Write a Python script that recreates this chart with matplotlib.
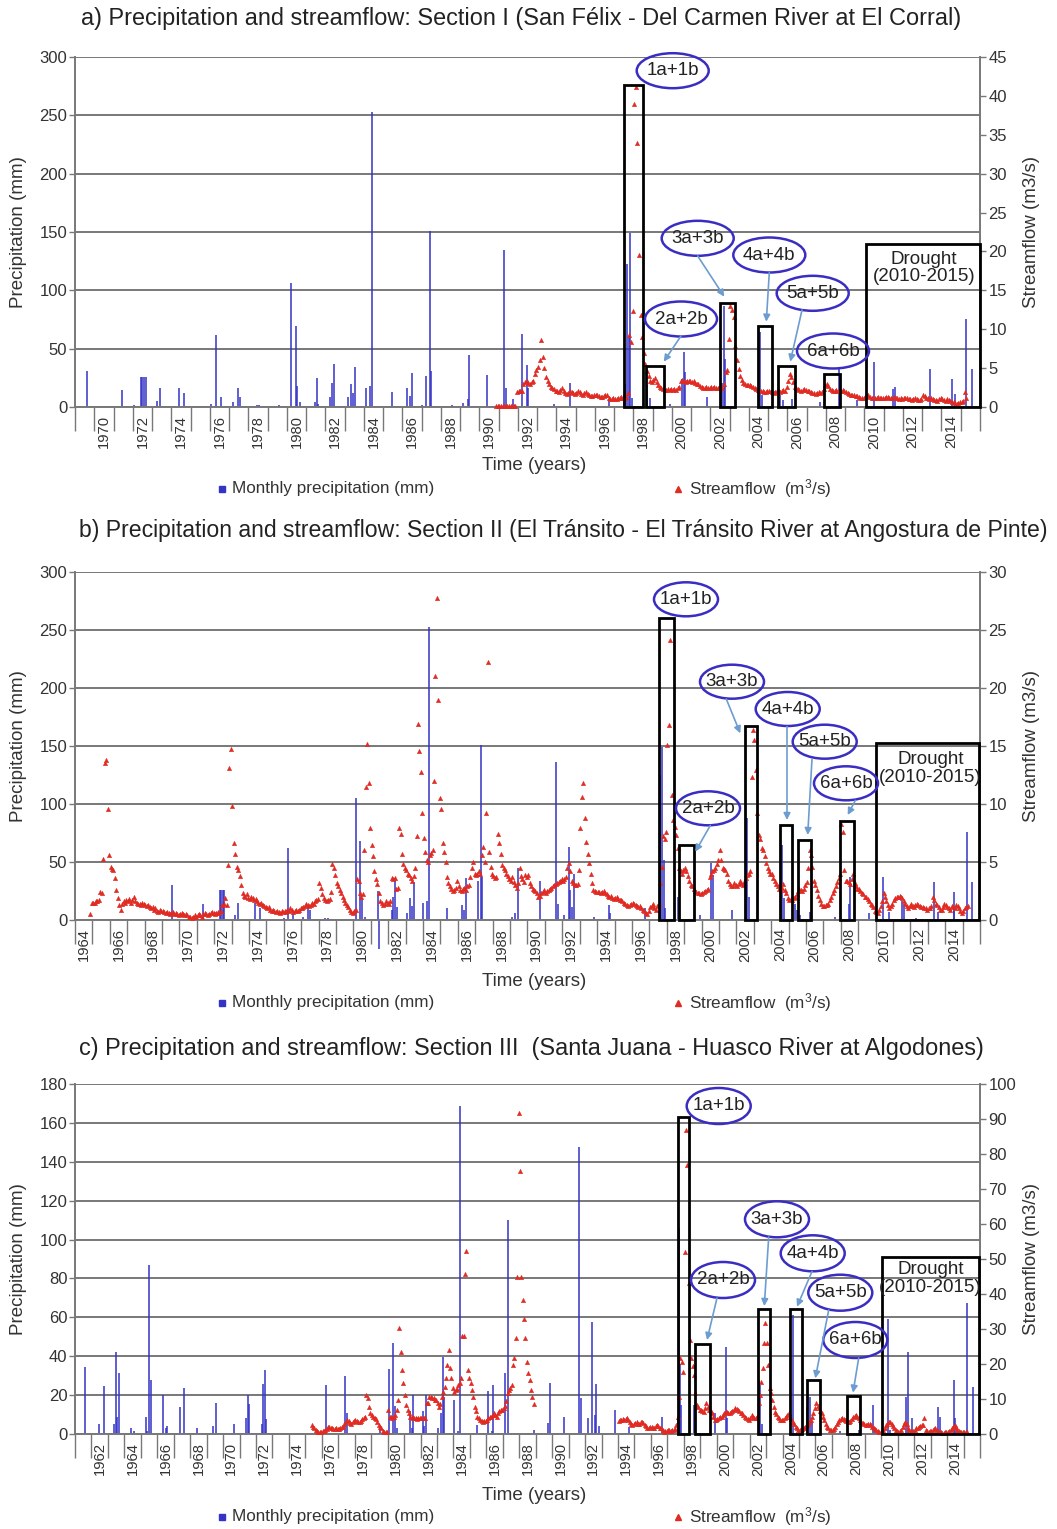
import numpy as np
import matplotlib
matplotlib.use('Agg')
import matplotlib.pyplot as plt
import matplotlib.transforms as mtrans
from matplotlib.patches import Ellipse, Rectangle, FancyArrowPatch
from matplotlib.lines import Line2D

plt.rcParams['font.family'] = ['Liberation Sans', 'DejaVu Sans']
plt.rcParams['mathtext.fontset'] = 'custom'
plt.rcParams['mathtext.rm'] = 'Liberation Sans'
plt.rcParams['mathtext.it'] = 'Liberation Sans:italic'

# ---------------------------------------------------------------- data
# Panel a: Section I (San Felix - Del Carmen River at El Corral)
precip_a_year = [1969.61, 1971.46, 1972.06, 1972.41, 1972.5, 1972.58, 1972.67, 1973.24, 1973.41,
                 1974.42, 1974.68, 1976.06, 1976.32, 1976.57, 1977.22, 1977.48, 1977.57, 1978.45,
                 1978.55, 1979.61, 1980.22, 1980.46, 1980.53, 1980.69, 1981.46, 1981.55, 1981.64,
                 1982.24, 1982.36, 1982.47, 1983.19, 1983.33, 1983.42, 1983.54, 1984.11, 1984.32,
                 1984.44, 1985.45, 1986.26, 1986.4, 1986.52, 1987.0, 1987.23, 1987.42, 1987.5,
                 1988.56, 1989.17, 1989.39, 1989.48, 1990.41, 1991.3, 1991.38, 1991.76, 1992.2,
                 1992.45, 1992.55, 1993.86, 1994.71, 1996.72, 1997.5, 1997.58, 1997.67, 1997.75,
                 1997.83, 1997.92, 1998.71, 1998.86, 1999.9, 2000.52, 2000.61, 2000.69, 2001.82,
                 2002.6, 2002.69, 2002.77, 2004.59, 2004.68, 2005.61, 2005.79, 2006.24, 2007.71,
                 2008.66, 2008.74, 2009.61, 2010.48, 2011.5, 2011.59, 2013.42, 2014.55, 2014.72,
                 2015.29, 2015.59]
precip_a_mm = [31, 15, 1.5, 26, 26, 26, 26, 5, 16.6,
               16.6, 12.3, 3, 62, 9, 4.5, 16.6, 9, 1.5,
               1.5, 1.5, 106, 69.6, 18, 4.5, 4, 25, 2.5,
               9, 21, 37, 9, 19.5, 12, 34, 16, 18,
               253, 13, 16.6, 9.5, 29.5, 1.5, 26.6, 151, 31,
               1.5, 3.7, 6.6, 45, 27.5, 135, 16.6, 6.5, 63,
               36, 16, 3, 21, 6, 10, 20, 123, 60,
               149, 8, 18.6, 8, 3, 24, 47, 30, 8.6,
               21, 87, 41, 64, 10, 10, 6, 7, 4,
               33, 7, 6, 38.6, 15.7, 17, 33, 24, 11.4,
               75.7, 33]
flow_a_start = (1990, 11)   # first monthly value: Nov 1990
flow_a = [0.1, 0.1,
          0.1, 0.1, 0.1, 0.1, 0.1, 0.1, 0.1, 0.1, 0.1, 0.1, 0.1, 1.9,
          2.0, 2.0, 2.1, 2.9, 3.2, 3.3, 3.1, 3.0, 3.2, 3.4, 4.2, 4.8,
          5.2, 6.0, 8.6, 6.4, 5.0, 3.9, 3.3, 2.9, 2.6, 2.4, 2.3, 2.1,
          2.0, 1.9, 2.2, 2.4, 2.0, 1.8, 1.7, 1.8, 2.0, 1.9, 1.8, 1.7,
          1.8, 2.0, 1.9, 1.7, 1.6, 1.8, 1.9, 1.7, 1.5, 1.4, 1.4, 1.5,
          1.6, 1.5, 1.4, 1.3, 1.3, 1.4, 1.6, 1.5, 1.2, 1.0, 1.0, 1.1,
          1.0, 1.0, 1.1, 1.2, 1.3, 1.2, 1.2, 1.3, 1.8, 9.2, 8.4, 12.4,
          39.0, 41.1, 34.0, 19.5, 11.8, 9.0, 7.0, 5.5, 4.6, 4.0, 3.4, 3.2,
          3.5, 3.7, 3.2, 2.8, 2.6, 2.4, 2.3, 2.2, 2.2, 2.3, 2.2, 2.3,
          2.2, 2.3, 2.2, 2.4, 2.6, 3.3, 3.5, 3.4, 3.2, 3.3, 3.4, 3.3,
          3.2, 3.3, 3.1, 3.0, 2.9, 2.7, 2.6, 2.5, 2.5, 2.6, 2.5, 2.5,
          2.6, 2.5, 2.6, 2.5, 2.4, 2.5, 2.6, 2.5, 3.0, 4.5, 4.8, 8.8,
          13.0, 12.5, 11.6, 7.9, 6.0, 4.9, 4.0, 3.5, 3.1, 2.9, 2.8, 2.8,
          2.8, 2.7, 2.6, 2.5, 2.3, 2.2, 2.1, 2.0, 2.0, 1.9, 1.9, 2.0,
          2.0, 2.1, 1.9, 1.8, 1.9, 2.0, 2.1, 1.9, 2.0, 2.2, 2.1, 2.6,
          3.4, 4.3, 3.8, 3.2, 2.6, 2.4, 2.3, 2.2, 2.1, 2.2, 2.3, 2.2,
          2.1, 2.0, 1.9, 1.8, 1.8, 1.7, 1.8, 1.9, 1.8, 1.9, 2.3, 2.8,
          2.9, 2.7, 2.3, 2.2, 2.1, 2.0, 2.2, 2.1, 2.0, 2.1, 2.2, 2.0,
          1.9, 1.8, 1.7, 1.6, 1.6, 1.5, 1.4, 1.4, 1.3, 1.2, 1.2, 1.1,
          1.3, 1.4, 1.5, 1.3, 1.2, 1.2, 1.1, 1.2, 1.3, 1.2, 1.1, 1.2,
          1.2, 1.3, 1.3, 1.2, 1.1, 1.2, 1.3, 1.2, 1.1, 1.0, 1.1, 1.0,
          1.1, 1.2, 1.1, 1.0, 1.0, 0.9, 1.0, 1.1, 1.0, 0.9, 0.9, 1.0,
          1.5, 1.4, 1.2, 1.1, 1.0, 1.1, 1.0, 0.9, 0.9, 0.8, 1.0, 1.2,
          1.0, 0.9, 0.8, 1.0, 0.9, 0.8, 0.7, 0.6, 0.5, 0.4, 0.5, 0.6,
          0.6, 0.8, 1.9, 1.2]
events = ['1a+1b', '2a+2b', '3a+3b', '4a+4b', '5a+5b', '6a+6b', 'Drought']
box_a_start = [1997.53, 1998.65, 2002.51, 2004.47, 2005.49, 2007.88, 2010.1]
box_a_end = [1998.48, 1999.6, 2003.26, 2005.2, 2006.41, 2008.75, 2016.0]
box_a_top = [41.4, 5.3, 13.4, 10.4, 5.3, 4.3, 20.9]

# Panel b: Section II (El Transito - El Transito River at Angostura de Pinte)
precip_b_year = [1969.55, 1971.37, 1972.33, 1972.41, 1972.49, 1972.56, 1973.19, 1973.35, 1974.34,
                 1974.63, 1976.01, 1976.26, 1976.55, 1977.12, 1977.41, 1977.5, 1978.36, 1978.56,
                 1980.13, 1980.38, 1980.47, 1980.66, 1981.43, 1981.47, 1982.2, 1982.29, 1982.39,
                 1982.48, 1983.1, 1983.25, 1983.38, 1983.48, 1984.02, 1984.25, 1984.36, 1985.36,
                 1986.22, 1986.37, 1986.47, 1987.18, 1987.33, 1987.41, 1989.09, 1989.28, 1989.44,
                 1990.74, 1991.66, 1991.73, 1992.12, 1992.36, 1992.46, 1992.56, 1992.65, 1993.8,
                 1994.66, 1994.72, 1996.77, 1997.59, 1997.63, 1997.73, 1997.82, 1997.88, 1998.63,
                 1999.93, 2000.56, 2000.64, 2001.75, 2002.61, 2002.71, 2004.62, 2004.72, 2005.39,
                 2005.48, 2005.68, 2006.25, 2007.69, 2008.45, 2008.55, 2009.6, 2010.41, 2010.75,
                 2011.52, 2011.61, 2012.34, 2013.38, 2013.57, 2014.49, 2014.53, 2015.25, 2015.54]
precip_b_mm = [30, 14, 26, 26, 26, 26, 4, 15, 15,
               10, 1.5, 62, 5, 3, 13, 9, 1.5, 1.5,
               105.6, 68, 18.7, 3, 25, -25, 9, 20, 36,
               11, 6, 19, 12, 33, 14.5, 16, 252.6, 10,
               13, 9, 36, 34, 150.7, 37, 3, 6, 44.5,
               34, 135.8, 14, 4, 63, 26, 11, 40, 3,
               13, 6, 10, 32, 125, 149, 52, 10, 20,
               4, 49, 39, 9, 87.6, 20, 64.6, 18.7, 14,
               9, 4, 7, 3, 14, 37, 6, 37, 7,
               16, 14, 1.5, 33, 7, 24, 10, 76, 33]
flow_b_start = (1964, 11)
flow_b = [0.5, 1.5,
          1.5, 1.5, 1.6, 1.6, 1.7, 2.4, 2.3, 5.3, 13.5, 13.8, 9.6, 5.6,
          4.6, 4.4, 4.3, 3.6, 2.6, 1.9, 1.3, 0.9, 1.4, 1.6, 1.5, 1.7,
          1.6, 1.8, 1.5, 1.7, 2.0, 1.6, 1.5, 1.4, 1.4, 1.3, 1.5, 1.4,
          1.3, 1.2, 1.3, 1.1, 1.0, 1.1, 0.9, 1.0, 0.8, 0.7, 0.9, 0.8,
          0.8, 0.7, 0.6, 0.7, 0.6, 0.5, 0.6, 0.7, 0.5, 0.6, 0.5, 0.4,
          0.5, 0.6, 0.5, 0.4, 0.5, 0.4, 0.3, 0.3, 0.2, 0.3, 0.4, 0.3,
          0.4, 0.5, 0.4, 0.3, 0.5, 0.6, 0.5, 0.4, 0.5, 0.6, 0.7, 0.6,
          0.5, 0.6, 0.7, 0.6, 0.8, 1.3, 1.4, 1.9, 1.3, 4.7, 13.1, 14.7,
          9.8, 6.6, 5.7, 4.6, 4.3, 3.8, 3.0, 2.3, 2.1, 2.0, 2.2, 1.9,
          1.8, 2.0, 1.9, 1.7, 1.8, 1.6, 1.5, 1.4, 1.5, 1.3, 1.2, 1.1,
          1.0, 1.1, 0.9, 0.8, 0.9, 0.8, 0.7, 0.8, 0.7, 0.6, 0.8, 0.7,
          0.8, 0.7, 0.9, 0.8, 1.0, 0.9, 0.7, 0.8, 0.9, 0.8, 0.9, 1.0,
          1.0, 1.1, 1.2, 1.4, 1.3, 1.2, 1.3, 1.5, 1.4, 1.6, 1.7, 1.8,
          3.2, 2.8, 2.2, 1.9, 1.7, 1.6, 1.7, 1.8, 2.4, 4.8, 4.5, 3.9,
          3.2, 2.9, 2.6, 2.3, 2.0, 1.7, 1.5, 1.3, 1.1, 0.9, 0.7, 0.6,
          0.8, 0.9, 3.5, 3.4, 2.3, 2.0, 2.2, 6.0, 11.5, 15.2, 11.8, 7.9,
          6.5, 5.5, 4.2, 3.5, 3.1, 2.3, 1.6, 1.5, 1.3, 1.4, 1.6, 1.5,
          1.4, 1.6, 3.6, 3.5, 3.6, 2.7, 2.8, 7.9, 7.4, 5.7, 4.8, 4.5,
          4.3, 4.0, 3.9, 3.6, 3.4, 3.8, 4.5, 7.2, 16.9, 14.6, 12.8, 9.2,
          7.1, 5.9, 5.2, 5.0, 5.6, 5.8, 6.0, 12.0, 21.0, 27.8, 19.0, 10.5,
          9.6, 6.6, 5.9, 5.0, 3.7, 3.2, 2.9, 2.7, 2.5, 2.6, 2.8, 3.4,
          2.9, 2.6, 2.5, 2.7, 2.8, 2.6, 2.9, 3.0, 3.7, 4.5, 5.0, 4.0,
          3.9, 4.0, 4.2, 4.0, 5.6, 6.3, 5.0, 9.2, 22.2, 5.9, 4.6, 4.0,
          3.8, 3.6, 3.7, 7.4, 6.6, 5.7, 4.7, 4.5, 4.3, 4.0, 3.8, 3.5,
          3.4, 3.7, 3.3, 3.0, 2.8, 3.2, 4.5, 3.8, 3.5, 3.3, 3.9, 3.7,
          3.9, 3.2, 2.9, 2.7, 2.6, 2.5, 2.3, 2.0, 2.1, 2.3, 2.4, 2.6,
          2.3, 2.5, 2.6, 2.7, 2.8, 2.9, 3.0, 3.1, 3.2, 3.3, 3.4, 3.5,
          3.4, 3.5, 3.7, 4.5, 4.9, 4.2, 3.4, 3.2, 3.0, 3.0, 3.1, 4.3,
          7.9, 10.6, 11.8, 8.8, 6.7, 5.7, 4.9, 4.0, 3.2, 2.6, 2.5, 2.4,
          2.4, 2.4, 2.3, 2.4, 2.5, 2.3, 2.2, 2.1, 2.0, 2.1, 1.9, 1.8,
          1.9, 2.0, 1.8, 1.7, 1.7, 1.6, 1.5, 1.4, 1.3, 1.2, 1.3, 1.4,
          1.5, 1.4, 1.3, 1.2, 1.1, 1.2, 1.0, 0.9, 0.8, 0.6, 0.5, 0.8,
          1.1, 1.2, 1.4, 1.0, 0.9, 1.2, 1.4, 3.2, 4.6, 7.2, 7.0, 7.6,
          15.1, 16.8, 24.1, 10.8, 8.6, 8.0, 7.3, 6.2, 4.5, 4.2, 4.0, 4.3,
          4.5, 4.2, 3.8, 3.4, 3.0, 2.9, 2.7, 2.5, 2.4, 2.3, 2.3, 2.2,
          2.3, 2.4, 2.5, 2.6, 2.7, 3.7, 4.0, 4.2, 4.3, 4.5, 4.8, 5.2,
          6.0, 5.2, 4.5, 4.4, 4.3, 4.0, 3.4, 3.1, 2.9, 2.9, 3.2, 3.0,
          2.9, 3.1, 3.4, 3.2, 3.0, 3.3, 3.6, 3.9, 4.0, 4.2, 12.3, 16.4,
          15.5, 12.9, 9.2, 7.3, 7.0, 6.2, 6.0, 5.5, 4.9, 4.5, 4.2, 4.0,
          4.0, 3.6, 3.4, 3.1, 2.9, 2.7, 2.6, 2.8, 3.1, 2.6, 2.3, 1.9,
          1.7, 1.8, 1.7, 1.9, 2.0, 2.2, 2.5, 2.7, 2.6, 2.5, 2.7, 3.0,
          3.3, 4.5, 6.0, 5.6, 4.6, 3.4, 3.0, 2.6, 2.1, 1.7, 1.4, 1.2,
          1.2, 1.3, 1.3, 1.4, 1.7, 2.0, 2.3, 2.6, 2.9, 3.3, 3.6, 4.0,
          8.3, 7.6, 4.3, 3.4, 3.4, 3.3, 3.1, 3.5, 4.0, 3.2, 2.9, 2.7,
          2.7, 2.5, 2.3, 2.2, 2.0, 2.0, 1.8, 1.6, 1.4, 1.3, 1.1, 0.8,
          0.7, 0.6, 0.9, 1.2, 1.6, 2.3, 2.0, 1.6, 1.3, 1.0, 1.2, 1.4,
          1.7, 1.9, 2.0, 2.0, 2.1, 2.0, 1.9, 1.6, 1.4, 1.2, 1.0, 1.2,
          1.4, 1.2, 1.1, 1.3, 1.4, 1.3, 1.2, 1.1, 1.1, 1.0, 1.0, 0.9,
          1.0, 1.0, 1.2, 2.0, 1.7, 1.4, 1.3, 1.1, 0.9, 0.9, 1.1, 1.4,
          1.3, 1.1, 1.0, 0.9, 1.2, 1.1, 1.0, 1.3, 1.2, 1.0, 0.8, 0.6,
          0.8, 1.0, 1.1, 1.2]
box_b_start = [1997.54, 1998.68, 2002.52, 2004.49, 2005.52, 2007.97, 2010.02]
box_b_end = [1998.4, 1999.58, 2003.19, 2005.2, 2006.31, 2008.74, 2015.92]
box_b_top = [26.0, 6.5, 16.7, 8.2, 6.9, 8.5, 15.3]

# Panel c: Section III (Santa Juana - Huasco River at Algodones)
precip_c_year = [1961.61, 1962.48, 1962.78, 1963.39, 1963.47, 1963.57, 1963.67, 1964.4, 1964.59,
                 1965.3, 1965.4, 1965.5, 1965.6, 1966.37, 1966.51, 1966.59, 1967.38, 1967.65,
                 1968.39, 1969.41, 1969.55, 1970.68, 1971.37, 1971.49, 1971.6, 1972.35, 1972.45,
                 1972.53, 1972.59, 1976.23, 1977.41, 1977.51, 1979.54, 1980.1, 1980.35, 1980.45,
                 1980.59, 1981.36, 1981.46, 1981.56, 1982.13, 1982.21, 1982.33, 1983.08, 1983.22,
                 1983.35, 1983.43, 1984.05, 1984.26, 1984.38, 1985.41, 1986.12, 1986.32, 1986.42,
                 1987.13, 1987.32, 1988.88, 1989.73, 1989.85, 1990.74, 1991.65, 1991.75, 1992.18,
                 1992.42, 1992.62, 1992.66, 1992.83, 1993.8, 1994.65, 1996.67, 1997.63, 1997.73,
                 1997.79, 1997.85, 1998.64, 1998.7, 1999.92, 2000.58, 2000.63, 2002.55, 2002.65,
                 2002.75, 2004.62, 2005.49, 2005.69, 2005.79, 2007.47, 2008.63, 2009.48, 2009.64,
                 2010.41, 2010.55, 2011.5, 2011.63, 2011.87, 2013.43, 2013.59, 2014.44, 2014.5,
                 2014.6, 2015.21, 2015.56]
precip_c_mm = [34.7, 5, 24.7, 5, 42.4, 9, 31.2, 3, 1.5,
               9, 1.5, 87, 27.8, 20, 3, 4, 14, 23.5,
               3, 4, 16, 5, 8, 20, 15.4, 5, 25.7,
               33, 7.5, 25, 30, 11, 3, 33.3, 46.7, 14.6,
               3, 11.8, 3, 20, 11.8, 4, 20, 3, 10.6,
               39.5, 19.2, 17.5, 1.5, 168.8, 4.6, 22.3, 1.5, 25.2,
               31.2, 110, 2, 5.5, 26.4, 8.6, 147.4, 18.4, 8,
               57.5, 9.8, 25.7, 4, 12.4, 3.8, 8.9, 8, 105.9,
               36, 15, 15, 5, 10.6, 45, 8, 27.8, 25.2,
               5, 61.3, 14, 19.2, 6, 1.5, 2, 15, 3,
               59, 2, 19.2, 42.4, 8, 13.7, 8.9, 27.8, 8,
               3, 67.6, 24.4]
flow_c1_start = (1975, 5)
flow_c1 = [2.6, 2.0, 1.6, 1.2, 0.9, 0.7, 0.6, 0.7,
           0.8, 0.9, 1.1, 1.4, 1.9, 2.1, 1.8, 1.6, 1.5, 1.4, 1.6, 1.5,
           1.4, 1.6, 1.9, 2.1, 2.9, 3.5, 4.0, 3.6, 3.2, 3.0, 3.4, 3.7,
           4.0, 3.8, 3.5, 3.4, 3.6, 4.2, 4.5, 5.0, 11.2, 10.2, 7.8, 5.9,
           5.5, 5.0, 4.6, 4.2, 3.5, 2.6, 2.0, 1.6, 1.0, 0.7, 0.6, 0.7,
           6.9, 5.0, 4.8, 4.5, 5.0, 5.5, 7.0, 9.7, 30.2, 23.3, 18.3, 14.7,
           11.2, 8.3, 6.9, 5.9, 5.0, 4.8, 4.6, 4.5, 4.5, 4.4, 4.5, 4.5,
           4.5, 4.5, 4.6, 4.5, 8.8, 8.8, 10.7, 10.7, 10.2, 10.2, 9.7, 9.7,
           9.0, 7.8, 8.5, 10.7, 12.0, 13.5, 15.9, 19.7, 24.0, 18.8, 16.0, 13.1,
           12.1, 12.5, 13.0, 14.0, 14.7, 16.0, 28.0, 28.0, 45.7, 52.3, 18.3, 15.9,
           14.5, 12.6, 10.7, 7.8, 6.5, 5.0, 4.5, 4.0, 3.8, 3.5, 3.6, 3.8,
           4.0, 4.5, 5.0, 5.0, 5.5, 5.9, 5.5, 5.0, 5.9, 6.5, 6.9, 6.9,
           7.5, 8.0, 9.5, 11.6, 12.5, 13.1, 14.0, 19.7, 21.6, 27.4, 45.0, 91.6,
           75.2, 45.0, 38.3, 33.0, 27.3, 20.7, 17.5, 15.4, 12.6, 10.5, 8.5]
flow_c2_start = (1994, 1)
flow_c2 = [3.8, 4.0, 4.0, 4.2, 4.0, 4.3, 4.5, 4.0, 3.5, 3.0, 2.6, 2.8,
           3.2, 3.5, 3.0, 3.0, 3.3, 3.5, 3.2, 2.6, 2.2, 1.6, 1.8, 2.1,
           2.0, 1.6, 1.8, 2.2, 2.6, 2.2, 1.8, 1.6, 1.2, 0.7, 0.8, 1.0,
           1.1, 1.1, 1.0, 1.1, 1.2, 1.5, 2.6, 5.0, 10.7, 21.6, 20.7, 17.8,
           52.1, 87.0, 77.0, 43.1, 26.9, 21.6, 19.3, 16.9, 11.6, 8.3, 7.8, 6.9,
           6.9, 6.6, 6.4, 7.5, 8.8, 7.8, 7.0, 6.5, 5.9, 5.0, 4.0, 4.0,
           4.2, 4.5, 4.8, 5.0, 5.5, 6.0, 6.4, 6.2, 5.9, 6.0, 6.4, 6.6,
           7.0, 7.3, 7.1, 6.9, 6.5, 6.0, 5.9, 5.5, 5.0, 4.6, 4.2, 4.0,
           4.5, 5.4, 5.0, 4.5, 4.5, 5.0, 8.8, 11.2, 15.0, 18.8, 25.9, 31.6,
           25.9, 19.7, 13.1, 11.6, 9.7, 7.8, 6.4, 5.7, 5.0, 4.5, 4.0, 4.0,
           4.0, 4.5, 5.0, 5.5, 5.9, 5.0, 4.2, 3.5, 2.8, 2.1, 1.6, 1.1,
           1.1, 1.2, 1.4, 1.6, 2.0, 2.5, 3.0, 3.5, 4.0, 4.8, 5.9, 7.5,
           8.8, 8.0, 7.3, 6.5, 5.9, 5.0, 4.0, 3.0, 2.1, 1.6, 1.1, 1.1,
           1.1, 1.5, 2.1, 2.8, 3.5, 4.0, 4.2, 4.5, 4.3, 4.0, 3.8, 3.5,
           3.5, 3.8, 4.2, 5.0, 5.2, 5.4, 5.0, 4.5, 4.0, 3.5, 3.2, 2.8,
           2.6, 2.6, 2.8, 3.0, 2.6, 2.1, 1.8, 1.4, 1.1, 0.9, 0.7, 0.7,
           0.9, 1.1, 1.8, 2.6, 3.0, 3.5, 3.3, 3.0, 2.2, 1.6, 1.1, 0.9,
           0.7, 0.8, 1.2, 2.1, 2.8, 3.5, 2.8, 1.6, 1.2, 0.9, 0.7, 0.9,
           1.2, 1.6, 1.8, 2.1, 2.4, 2.6, 2.6, 4.5, 1.1, 0.9, 0.7, 0.8,
           0.9, 1.1, 1.3, 1.6, 1.2, 0.9, 0.7, 0.5, 0.4, 0.4, 0.5, 0.6,
           0.7, 0.9, 1.2, 1.6, 2.1, 2.6, 2.0, 1.1, 0.9, 0.7, 0.7, 0.7,
           0.7, 0.7, 0.7]
box_c_start = [1997.63, 1998.7, 2002.51, 2004.43, 2005.49, 2007.92, 2010.05]
box_c_end = [1998.34, 1999.57, 2003.26, 2005.18, 2006.3, 2008.73, 2015.96]
box_c_top = [90.6, 25.7, 35.7, 35.7, 15.3, 10.9, 50.7]

titles = ['a) Precipitation and streamflow: Section I (San Félix - Del Carmen River at El Corral)',
          'b) Precipitation and streamflow: Section II (El Tránsito - El Tránsito River at Angostura de Pinte)',
          'c) Precipitation and streamflow: Section III  (Santa Juana - Huasco River at Algodones)']

# ---------------------------------------------------------------- style / layout
W, H = 1057, 1529
BLUE = '#3333c6'
RED = '#e02a22'
GRID = '#787878'
TXT = '#333333'
ELL = '#3a2dc2'
ARW = '#6d9dd0'

fig = plt.figure(figsize=(W / 100, H / 100), dpi=100)
px = mtrans.Affine2D().scale(1 / W, -1 / H).translate(0, 1) + fig.transFigure


def monthly_x(start, n):
    y0, m0 = start
    return y0 + (m0 - 1 + np.arange(n) + 0.5) / 12.0


def panel(rect, xlim, pmax, pstep, fmax, fstep, label_years, px_, pv_, flows, boxes):
    l, t, r, b = rect
    ax = fig.add_axes([l / W, 1 - b / H, (r - l) / W, (b - t) / H])
    ax.set_xlim(*xlim)
    ax.set_ylim(0, pmax)
    ax.vlines(px_, 0, pv_, color=BLUE, lw=1.1, zorder=2, clip_on=False)
    ax.set_yticks(np.arange(0, pmax + 0.1, pstep))
    ax.yaxis.grid(True, color=GRID, lw=1.4)
    ax.set_axisbelow(True)
    ax.set_xticks(np.arange(xlim[0], xlim[1] + 1))
    ax.set_xticks(np.array(label_years) + 0.5, minor=True)
    ax.set_xticklabels([str(y) for y in label_years], minor=True, rotation=90,
                       fontsize=10.6, color=TXT)
    ax.tick_params(axis='x', which='major', length=17, width=1, color=GRID, labelbottom=False)
    ax.tick_params(axis='x', which='minor', length=0, pad=6)
    ax.tick_params(axis='y', length=4, width=1, color=GRID, labelsize=12, labelcolor=TXT, pad=1.5)
    for s in ['top', 'right']:
        ax.spines[s].set_visible(False)
    for s in ['left', 'bottom']:
        ax.spines[s].set_color(GRID)
        ax.spines[s].set_linewidth(1.4)
    ax2 = ax.twinx()
    ax2.set_ylim(0, fmax)
    ax2.set_yticks(np.arange(0, fmax + 0.1, fstep))
    ax2.tick_params(axis='y', length=4, width=1, color=GRID, labelsize=12, labelcolor=TXT, pad=2)
    for s in ['top', 'left', 'bottom']:
        ax2.spines[s].set_visible(False)
    ax2.spines['right'].set_color(GRID)
    ax2.spines['right'].set_linewidth(1.4)
    for start, vals in flows:
        ax2.plot(monthly_x(start, len(vals)), vals, ls='none', marker='^', ms=3.2,
                 color=RED, mec=RED, mew=0.3, zorder=3, clip_on=False)
    for s, e, top in zip(*boxes):
        ax2.add_patch(Rectangle((s, 0), e - s, top, fill=False, ec='black', lw=2.0,
                                zorder=5, clip_on=False))
    return ax, ax2


def annotate(ells, arrows, drought, ew, eh=35):
    for (cx, cy), name in zip(ells, events[:6]):
        fig.add_artist(Ellipse((cx, cy), ew, eh, transform=px, fill=False, ec=ELL, lw=1.8))
        fig.text(cx / W, 1 - cy / H, name, ha='center', va='center', fontsize=13.5, color='#222222')
    for (x1, y1), (x2, y2) in arrows:
        fig.add_artist(FancyArrowPatch((x1, y1), (x2, y2), transform=px, arrowstyle='-|>',
                                       mutation_scale=10, color=ARW, lw=1.2,
                                       shrinkA=0, shrinkB=0))
    fig.text(drought[0] / W, 1 - drought[1] / H, 'Drought\n(2010-2015)', ha='center',
             va='center', fontsize=13.5, color='#222222', linespacing=1.05)


def labels(title_xy, title, tsize, ycenter, xlab_y, leg_y):
    fig.text(title_xy[0] / W, 1 - title_xy[1] / H, title, ha='center', va='center',
             fontsize=tsize, color='#222222')
    fig.text(19 / W, 1 - ycenter / H, 'Precipitation (mm)', rotation=90, ha='center',
             va='center', fontsize=13.5, color=TXT)
    fig.text(1031 / W, 1 - ycenter / H, 'Streamflow (m3/s)', rotation=90, ha='center',
             va='center', fontsize=13.5, color=TXT)
    fig.text(534 / W, 1 - xlab_y / H, 'Time (years)', ha='center', va='center',
             fontsize=13.5, color=TXT)
    fig.add_artist(Line2D([222], [leg_y], transform=px, marker='s', ms=4.5, color=BLUE, ls='none'))
    fig.text(232 / W, 1 - leg_y / H, 'Monthly precipitation (mm)', ha='left', va='center',
             fontsize=12.3, color=TXT)
    fig.add_artist(Line2D([678], [leg_y], transform=px, marker='^', ms=5, color=RED, ls='none'))
    fig.text(689 / W, 1 - leg_y / H, 'Streamflow  (m$^3$/s)', ha='left', va='center',
             fontsize=12.3, color=TXT)


# ---- panel a
panel((75, 57, 980, 407), (1969, 2016), 300, 50, 45, 5, list(range(1970, 2015, 2)),
      precip_a_year, precip_a_mm, [(flow_a_start, flow_a)],
      (box_a_start, box_a_end, box_a_top))
annotate([(672.7, 70.7), (681, 319), (697.7, 238.3), (769.3, 255), (812.7, 293.3), (833, 351)],
         [((681, 336), (663.7, 361.7)), ((697.7, 256), (724.3, 296.7)),
          ((769.3, 272.5), (766.3, 321.7)), ((802, 310), (790.3, 361.7))],
         (923.7, 268), 72)
labels((521, 18), titles[0], 16.9, 232, 466, 489)

# ---- panel b
panel((75, 572, 980, 920), (1964, 2016), 300, 50, 30, 5, list(range(1964, 2015, 2)),
      precip_b_year, precip_b_mm, [(flow_b_start, flow_b)],
      (box_b_start, box_b_end, box_b_top))
annotate([(686, 599.3), (708, 808.3), (732, 681.7), (787.7, 709), (824.7, 741.7), (846, 783.3)],
         [((710.3, 825.5), (695.3, 851.7)), ((726.3, 699), (740.3, 733.3)),
          ((787, 726.5), (787, 820)), ((812, 759), (807.7, 835)), ((855.3, 800.5), (847.7, 815))],
         (930.3, 768.3), 64, 34)
labels((563, 530), titles[1], 16.6, 746, 981, 1003)

# ---- panel c
panel((75, 1084, 980, 1434), (1961, 2016), 180, 20, 100, 10, list(range(1962, 2015, 2)),
      precip_c_year, precip_c_mm, [(flow_c1_start, flow_c1), (flow_c2_start, flow_c2)],
      (box_c_start, box_c_end, box_c_top))
annotate([(718.7, 1106), (723, 1280), (777, 1219.3), (812.7, 1253.3), (840.3, 1292.7), (855.3, 1340)],
         [((717, 1298), (707, 1340)), ((768.7, 1237), (764.3, 1306)),
          ((812, 1271.5), (797, 1306.7)), ((828.7, 1310), (815.3, 1378.3)),
          ((858.7, 1358), (853, 1392.7))],
         (930.3, 1278.3), 64, 36)
labels((531, 1048), titles[2], 16.9, 1259, 1495, 1517)

fig.savefig('out.png', dpi=100, facecolor='white')
